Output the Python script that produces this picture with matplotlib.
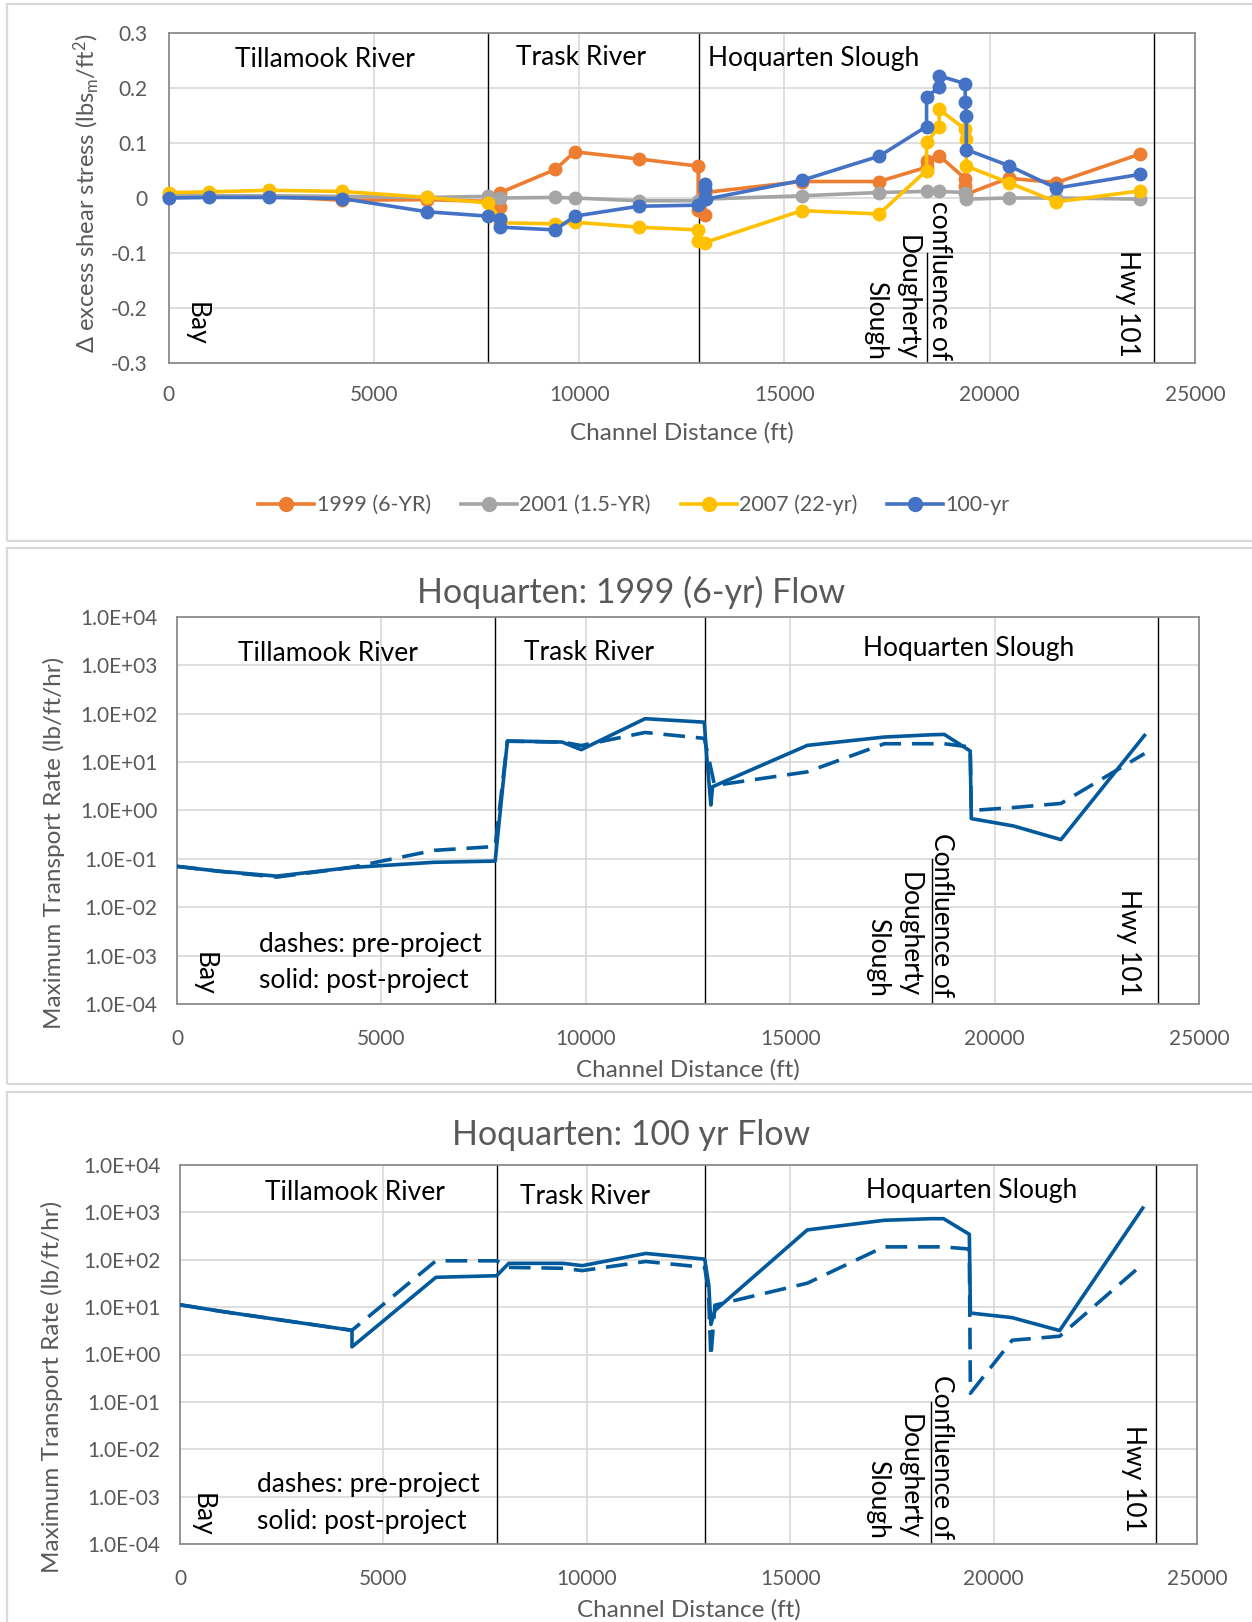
import matplotlib
matplotlib.use('Agg')
import matplotlib.pyplot as plt
from matplotlib.lines import Line2D
from matplotlib.patches import Rectangle
from matplotlib.ticker import FixedLocator, FuncFormatter, NullLocator

plt.rcParams['font.family'] = ['Lato', 'DejaVu Sans']
plt.rcParams['mathtext.fontset'] = 'custom'
plt.rcParams['mathtext.rm'] = 'Lato'
plt.rcParams['mathtext.it'] = 'Lato:italic'

W, H = 1252, 1622
GRAY_TXT = '#595959'
GRID = '#D9D9D9'
FLOW = '#02599C'

# ---------------------------------------------------------------- data
# delta excess shear stress, per flow event
x1999 = [0, 989, 2438, 4228, 6291, 7783, 8082, 8082, 9420, 9889, 11449, 12898, 12898, 13060, 13060,
         15420, 17304, 18461, 18461, 18769, 19403, 19403, 19430, 20457, 21623, 23666]
y1999 = [0.003, 0.003, 0.003, -0.004, -0.003, -0.006, -0.017, 0.010, 0.052, 0.084, 0.071, 0.058, -0.022,
         -0.031, 0.010, 0.030, 0.030, 0.056, 0.068, 0.077, 0.035, 0.022, 0.007, 0.036, 0.028, 0.080]

x2001 = [0, 989, 2438, 4228, 6291, 7783, 8082, 9420, 9889, 11449, 12898, 13060, 15420, 17304, 18461,
         18769, 19403, 19430, 20457, 21623, 23666]
y2001 = [0.004, 0.004, 0.004, 0.003, 0.001, 0.003, 0.000, 0.001, 0.000, -0.005, -0.005, -0.002, 0.004,
         0.010, 0.012, 0.012, 0.010, -0.002, 0.000, 0.000, -0.002]

x2007 = [0, 989, 2438, 4228, 6291, 7783, 8082, 8082, 9420, 9889, 11449, 12898, 12898, 13060, 15420,
         17304, 18461, 18461, 18769, 18769, 19403, 19430, 19430, 20457, 21623, 23666]
y2007 = [0.010, 0.011, 0.014, 0.012, 0.001, -0.009, -0.038, -0.045, -0.047, -0.044, -0.053, -0.058,
         -0.078, -0.081, -0.023, -0.029, 0.050, 0.101, 0.130, 0.161, 0.125, 0.107, 0.058, 0.028, -0.007, 0.013]

x100 = [0, 989, 2438, 4228, 6291, 7783, 8082, 8082, 9420, 9889, 11449, 12898, 13060, 13060, 13100,
        15420, 17304, 18461, 18461, 18769, 18769, 19403, 19403, 19430, 19430, 20457, 21623, 23666]
y100 = [0.000, 0.001, 0.001, -0.001, -0.025, -0.033, -0.039, -0.053, -0.058, -0.033, -0.015, -0.013,
        0.026, 0.016, -0.002, 0.032, 0.076, 0.130, 0.184, 0.201, 0.222, 0.208, 0.174, 0.150, 0.088,
        0.059, 0.018, 0.043]

shear_series = [('1999 (6-YR)', x1999, y1999, '#ED7D31'),
                ('2001 (1.5-YR)', x2001, y2001, '#A5A5A5'),
                ('2007 (22-yr)', x2007, y2007, '#FFC000'),
                ('100-yr', x100, y100, '#4472C4')]

# max transport rate, 1999 (6-yr) flow
post99_x = [0, 989, 2438, 4228, 6291, 7783, 8082, 9420, 9889, 11449, 12898, 12960, 13060, 13100,
            15420, 17304, 18461, 18769, 19403, 19430, 20457, 21623, 23666]
post99_y = [0.070, 0.056, 0.044, 0.066, 0.085, 0.090, 27.4, 26.0, 18.1, 79, 67, 12.7, 1.3, 3.1,
            22.2, 33, 36.8, 37.4, 17, 0.68, 0.48, 0.25, 35.6]
pre99_x = [0, 989, 2438, 4228, 6291, 7783, 8082, 9420, 9889, 11449, 12898, 13000, 13150,
           15420, 17304, 18461, 18769, 19403, 19430, 20457, 21623, 23666]
pre99_y = [0.070, 0.056, 0.042, 0.066, 0.15, 0.18, 27, 26, 22, 41, 31, 12.7, 3.3,
           6.3, 24, 24, 24, 20.5, 1.0, 1.15, 1.4, 15]

# max transport rate, 100 yr flow
post100_x = [0, 989, 4228, 4228, 6291, 7783, 8082, 9420, 9889, 11449, 12898, 13000, 13050, 13150,
             15420, 17304, 18461, 18769, 19403, 19430, 20457, 21623, 23666]
post100_y = [11.2, 8.2, 3.24, 1.45, 42.6, 46, 84, 84, 75, 136, 103, 28.5, 4.3, 8.5,
             426, 680, 736, 736, 345, 7.5, 6.0, 3.2, 1233]
pre100_x = [0, 989, 4228, 6291, 7783, 8082, 9420, 9889, 11449, 12898, 12990, 13050, 13150,
            15420, 17304, 18461, 18769, 19403, 19430, 20457, 21623, 23666]
pre100_y = [11.2, 8.2, 3.24, 95, 95, 69, 66, 59, 92, 69, 22, 0.89, 11,
            32, 187, 187, 187, 168, 0.152, 2.0, 2.43, 81]

dividers = [7790, 12910, 24000]
confluence = 18470
xticks = [0, 5000, 10000, 15000, 20000, 25000]
log_ticks = [1e-4, 1e-3, 1e-2, 1e-1, 1e0, 1e1, 1e2, 1e3, 1e4]
conf_text = 'confluence of\nDougherty\nSlough'


def px_rect(l, t, r, b):
    return [l / W, 1 - b / H, (r - l) / W, (b - t) / H]


fig = plt.figure(figsize=(W / 100, H / 100), dpi=100)

# panel frames
for (t, b) in [(4, 541), (548, 1084), (1092, 1640)]:
    fig.add_artist(Rectangle((7 / W, 1 - b / H), 1.2, (b - t) / H, transform=fig.transFigure,
                             fill=False, ec=GRID, lw=1.6))


def style_axes(ax, tick_size, xpad, ypad):
    for s in ax.spines.values():
        s.set_color('#8C8C8C')
        s.set_linewidth(1.3)
    ax.grid(True, color=GRID, lw=1.2)
    ax.set_axisbelow(True)
    ax.set_xlim(0, 25000)
    ax.xaxis.set_major_locator(FixedLocator(xticks))
    ax.tick_params(length=0, labelsize=tick_size, labelcolor=GRAY_TXT)
    ax.tick_params(axis='x', pad=xpad)
    ax.tick_params(axis='y', pad=ypad)
    for xd in dividers:
        ax.axvline(xd, color='black', lw=1.0, zorder=1.5)


# ---------------------------------------------------------------- top: shear stress
ax1 = fig.add_axes(px_rect(168.7, 33, 1195, 363))
style_axes(ax1, 15, 16, 15)
ax1.set_ylim(-0.3, 0.3)
ax1.yaxis.set_major_locator(FixedLocator([-0.3, -0.2, -0.1, 0, 0.1, 0.2, 0.3]))
ax1.yaxis.set_major_formatter(FuncFormatter(lambda v, p: '0' if abs(v) < 1e-9 else f'{v:.1f}'))
for label, xs, ys, col in shear_series:
    ax1.plot(xs, ys, '-o', color=col, lw=2.6, ms=9, label=label, zorder=3, clip_on=False)
ax1.plot([confluence, confluence], [-0.1, -0.3], color='black', lw=1.0)
ax1.text(3805, 0.251, 'Tillamook River', fontsize=19, ha='center', va='center')
ax1.text(10055, 0.255, 'Trask River', fontsize=19, ha='center', va='center')
ax1.text(13130, 0.253, 'Hoquarten Slough', fontsize=19, ha='left', va='center')
ax1.text(680, -0.268, 'Bay', rotation=270, fontsize=19, ha='center', va='bottom')
ax1.text(23362, -0.288, 'Hwy 101', rotation=270, fontsize=19, ha='center', va='bottom')
ax1.text(17994, -0.294, conf_text, rotation=270, fontsize=19, ha='center', va='bottom',
         multialignment='right', linespacing=1.35)
ax1.set_xlabel('Channel Distance (ft)', fontsize=17.5, color=GRAY_TXT, labelpad=12)
ax1.set_ylabel('Δ excess shear stress (lbs$_{\\mathregular{m}}$/ft$^{\\mathregular{2}}$)',
               fontsize=17, color=GRAY_TXT)
ax1.yaxis.set_label_coords(-0.066, 0.515)

handles = [Line2D([], [], color=c, lw=2.6, marker='o', ms=10) for _, _, _, c in shear_series]
fig.legend(handles, [s[0] for s in shear_series], loc='center', bbox_to_anchor=(634 / W, 1 - 505 / H),
           ncol=4, frameon=False, fontsize=15.5, handlelength=2.6, columnspacing=1.4, handletextpad=0.1,
           labelcolor=GRAY_TXT)


# ---------------------------------------------------------------- transport charts
def transport_chart(rect, title, title_y, pre_x, pre_y, post_x, post_y, reach_pos, bay, hwy, conf, note,
                    ylab_xy):
    ax = fig.add_axes(px_rect(*rect))
    ax.set_yscale('log')
    style_axes(ax, 15, 18, 14)
    ax.set_ylim(1e-4, 1e4)
    ax.yaxis.set_major_locator(FixedLocator(log_ticks))
    ax.yaxis.set_minor_locator(NullLocator())
    ax.yaxis.set_major_formatter(FuncFormatter(lambda v, p: f'{v:.1E}'))
    ax.plot(pre_x, pre_y, color=FLOW, lw=2.6, ls=(0, (6, 3)), zorder=3)
    ax.plot(post_x, post_y, color=FLOW, lw=2.6, zorder=3)
    ax.plot([confluence, confluence], [1e-1, 1e-4], color='black', lw=1.0)
    for txt, (xx, yy, ha) in reach_pos.items():
        ax.text(xx, yy, txt, fontsize=19, ha=ha, va='center')
    ax.text(bay[0], bay[1], 'Bay', rotation=270, fontsize=19, ha='center', va='bottom')
    ax.text(hwy[0], hwy[1], 'Hwy 101', rotation=270, fontsize=19, ha='center', va='bottom')
    ax.text(conf[0], conf[1], conf_text.replace('confluence', 'Confluence'), rotation=270, fontsize=19,
            ha='center', va='bottom', multialignment='right', linespacing=1.35)
    ax.text(note[0], note[1], 'dashes: pre-project', fontsize=19, ha='left', va='center')
    ax.text(note[0], note[2], 'solid: post-project', fontsize=19, ha='left', va='center')
    ax.set_xlabel('Channel Distance (ft)', fontsize=17.5, color=GRAY_TXT, labelpad=7)
    ax.set_ylabel('Maximum Transport Rate (lb/ft/hr)', fontsize=17.5, color=GRAY_TXT)
    ax.yaxis.set_label_coords(*ylab_xy)
    fig.text(631 / W, 1 - title_y / H, title, fontsize=24.5, color=GRAY_TXT, ha='center', va='center')
    return ax


transport_chart((177, 617, 1199, 1004), 'Hoquarten: 1999 (6-yr) Flow', 592,
                pre99_x, pre99_y, post99_x, post99_y,
                {'Tillamook River': (3694, 10 ** 3.25, 'center'),
                 'Trask River': (10071, 10 ** 3.27, 'center'),
                 'Hoquarten Slough': (19357, 10 ** 3.34, 'center')},
                (658, 10 ** -3.83), (23280, 10 ** -3.83), (17915, 10 ** -3.85),
                (2000, 10 ** -2.76, 10 ** -3.51), (-0.110, 0.416))

transport_chart((180, 1165, 1197, 1544), 'Hoquarten: 100 yr Flow', 1135,
                pre100_x, pre100_y, post100_x, post100_y,
                {'Tillamook River': (4298, 10 ** 3.43, 'center'),
                 'Trask River': (9944, 10 ** 3.34, 'center'),
                 'Hoquarten Slough': (19456, 10 ** 3.47, 'center')},
                (534, 10 ** -3.85), (23429, 10 ** -3.74), (17930, 10 ** -3.89),
                (1882, 10 ** -2.75, 10 ** -3.52), (-0.115, 0.414))

fig.savefig('out.png', dpi=100)
